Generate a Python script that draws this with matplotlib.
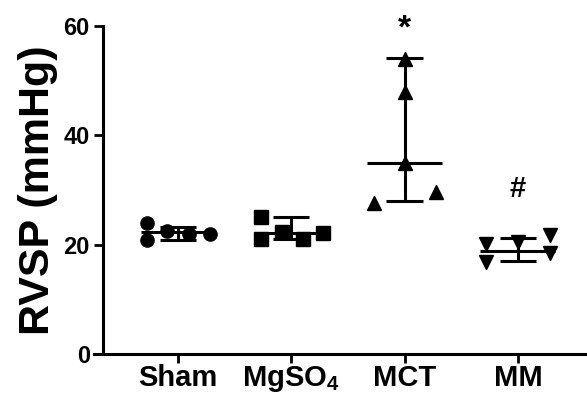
import numpy as np
import matplotlib
matplotlib.use("Agg")
import matplotlib.pyplot as plt

plt.rcParams['font.family'] = ['Liberation Sans', 'DejaVu Sans']
plt.rcParams['font.weight'] = 'bold'
plt.rcParams['mathtext.fontset'] = 'custom'
plt.rcParams['mathtext.rm'] = 'Liberation Sans:bold'
plt.rcParams['mathtext.bf'] = 'Liberation Sans:bold'

# groups and values (mmHg)
groups = ["Sham", "MgSO$_4$", "MCT", "MM"]
markers = ["o", "s", "^", "v"]
sham = [24.0, 20.9, 22.5, 22.0, 22.0]
mgso4 = [25.0, 21.0, 22.3, 21.1, 22.1]
mct = [27.7, 35.0, 47.9, 54.0, 29.7]
mm = [20.2, 16.9, 20.4, 21.8, 18.5]
# horizontal spread of the dots within each column
sham_dx = [-0.27, -0.27, -0.10, 0.10, 0.28]
mgso4_dx = [-0.27, -0.27, -0.08, 0.10, 0.28]
mct_dx = [-0.27, 0.0, 0.0, 0.0, 0.28]
mm_dx = [-0.28, -0.28, 0.0, 0.28, 0.28]
# centre line and whisker ends
centre = [22.3, 22.1, 35.0, 18.8]
upper = [23.3, 25.0, 54.1, 21.2]
lower = [20.9, 21.0, 27.9, 17.1]
marks = ["", "", "*", "#"]
mark_y = [0, 0, 59.5, 30.1]

values = [sham, mgso4, mct, mm]
offsets = [sham_dx, mgso4_dx, mct_dx, mm_dx]

fig = plt.figure(figsize=(5.87, 4.01), dpi=100)
ax = fig.add_axes([94 / 587, 1 - 354 / 401, 1 - 94 / 587, (354 - 26) / 401])

lw = 2.2
for i, (v, dx, mk) in enumerate(zip(values, offsets, markers)):
    ax.plot(i + np.array(dx), v, mk, color="black", ms=9.5, mec="black", zorder=3, clip_on=False)
    ax.hlines(centre[i], i - 0.33, i + 0.33, color="black", lw=lw, zorder=4)
    ax.vlines(i, lower[i], upper[i], color="black", lw=lw, zorder=4)
    ax.hlines([lower[i], upper[i]], i - 0.16, i + 0.16, color="black", lw=lw, zorder=4)
    if marks[i]:
        fs = 24 if marks[i] == "*" else 21
        ax.text(i, mark_y[i], marks[i], ha="center", va="center", fontsize=fs,
                fontweight="bold", clip_on=False)

ax.set_xlim(-0.741, 3.61)
ax.set_ylim(0, 60)
ax.set_yticks([0, 20, 40, 60])
ax.set_xticks(range(4))
ax.set_xticklabels(groups, fontsize=21, fontweight="bold")
ax.tick_params(axis="y", labelsize=17, length=6.5, width=2, pad=3)
ax.tick_params(axis="x", length=6.5, width=2, pad=1)
for t in ax.get_yticklabels():
    t.set_fontweight("bold")

ax.spines["top"].set_visible(False)
ax.spines["right"].set_visible(False)
ax.spines["left"].set_linewidth(2.2)
ax.spines["bottom"].set_linewidth(2.2)
ax.spines["left"].set_position(("data", -0.662))
ax.spines["left"].set_bounds(0, 60)

ax.set_ylabel("RVSP (mmHg)", fontsize=31, fontweight="bold", labelpad=4)

fig.savefig("out.png", dpi=100)
